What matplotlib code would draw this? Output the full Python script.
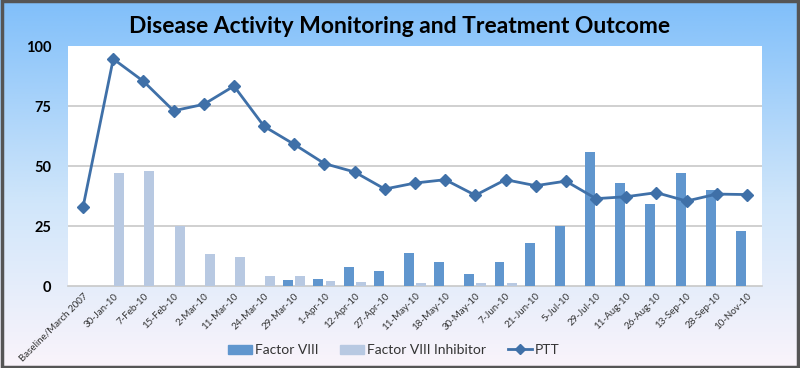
import numpy as np
import matplotlib
matplotlib.use("Agg")
import matplotlib.pyplot as plt
from matplotlib.patches import Rectangle
from matplotlib.lines import Line2D
from matplotlib.patches import Patch

categories = ["Baseline/March 2007", "30-Jan-10", "7-Feb-10", "15-Feb-10", "2-Mar-10",
              "11-Mar-10", "24-Mar-10", "29-Mar-10", "1-Apr-10", "12-Apr-10", "27-Apr-10",
              "11-May-10", "18-May-10", "30-May-10", "7-Jun-10", "21-Jun-10", "5-Jul-10",
              "29-Jul-10", "11-Aug-10", "26-Aug-10", "13-Sep-10", "28-Sep-10", "10-Nov-10"]
factor_viii = [0, 0, 0, 0, 0, 0, 0, 2.4, 3.1, 8, 6.2, 13.9, 10.1, 5.1, 10.1, 18, 25,
               55.8, 42.9, 34, 47, 40, 23]
inhibitor = [0, 47, 48, 25, 13.5, 12, 4.2, 4.2, 2.2, 1.7, 0, 1.1, 0, 1.1, 1.1, 0, 0,
             0, 0, 0, 0, 0, 0]
ptt = [33, 94.6, 85.3, 73, 75.7, 83.3, 66.5, 59, 51, 47.5, 40.4, 42.9, 44.3, 37.8,
       44.3, 41.8, 43.7, 36.4, 37.2, 38.9, 35.4, 38.3, 38.1]
yticks = [0, 25, 50, 75, 100]

W, H = 800, 368
fig = plt.figure(figsize=(W / 100, H / 100), dpi=100)

# gradient background
bg = fig.add_axes([0, 0, 1, 1], zorder=-10)
top = np.array([0x80, 0xBF, 0xFA]) / 255
mid = np.array([0xD0, 0xE6, 0xFA]) / 255
bot = np.array([0xFA, 0xF4, 0xFB]) / 255
t = np.linspace(0, 1, 256)[:, None]
grad = np.where(t < 0.55, top + (mid - top) * (t / 0.55), mid + (bot - mid) * ((t - 0.55) / 0.45))
bg.imshow(grad[:, None, :].repeat(2, axis=1), aspect="auto", extent=[0, 1, 0, 1], origin="upper")
bg.set_xlim(0, 1); bg.set_ylim(0, 1)
bg.axis("off")
fig.patches.append(Rectangle((0.002, 0.003), 0.996, 0.993, transform=fig.transFigure,
                             fill=False, edgecolor="#555555", linewidth=2.5, zorder=100))

ax = fig.add_axes([68 / W, 82 / H, 694 / W, 240 / H])
ax.set_facecolor("white")
x = np.arange(len(categories))
bw = 0.33
fv = [v if v > 0 else np.nan for v in factor_viii]
inh = [v if v > 0 else np.nan for v in inhibitor]
ax.bar(x - 0.2, fv, width=bw, color="#6096CE", zorder=3)
ax.bar(x + 0.2, inh, width=bw, color="#B8C9E2", zorder=3)
ax.plot(x, ptt, color="#3F70A8", lw=2, marker="D", markersize=6, zorder=4)

ax.set_xlim(-0.5, len(categories) - 0.5)
ax.set_ylim(0, 100)
ax.set_yticks(yticks)
ax.set_yticklabels([str(v) for v in yticks], fontsize=10.5, fontweight="bold",
                   family=["Lato", "DejaVu Sans"])
for yv in [25, 50, 75]:
    ax.axhline(yv, color="#C8C8C8", lw=1.2, zorder=1)
for s in ["top", "right", "left"]:
    ax.spines[s].set_visible(False)
ax.spines["bottom"].set_color("#C8C8C8")
ax.spines["bottom"].set_linewidth(1.2)
ax.tick_params(axis="y", length=0, pad=12)
ax.tick_params(axis="x", length=0, pad=4)
ax.set_xticks(x)
ax.set_xticklabels(categories, rotation=45, ha="right", rotation_mode="anchor",
                   fontsize=7, color="#333333", family=["Lato", "DejaVu Sans"])

fig.text(0.5, 0.928, "Disease Activity Monitoring and Treatment Outcome", ha="center",
         va="center", fontsize=16.5, fontweight="bold", family=["Lato", "DejaVu Sans"])

handles = [Patch(color="#6096CE", label="Factor VIII"),
           Patch(color="#B8C9E2", label="Factor VIII Inhibitor"),
           Line2D([0], [0], color="#3F70A8", lw=2, marker="D", markersize=5, label="PTT")]
fig.legend(handles=handles, loc="center", bbox_to_anchor=(0.492, 0.048), ncol=3,
           frameon=False, prop={"family": "Lato", "size": 10}, handlelength=1.7,
           columnspacing=1.6, handletextpad=0.2, labelcolor="#333333")

fig.savefig("out.png", dpi=100)
